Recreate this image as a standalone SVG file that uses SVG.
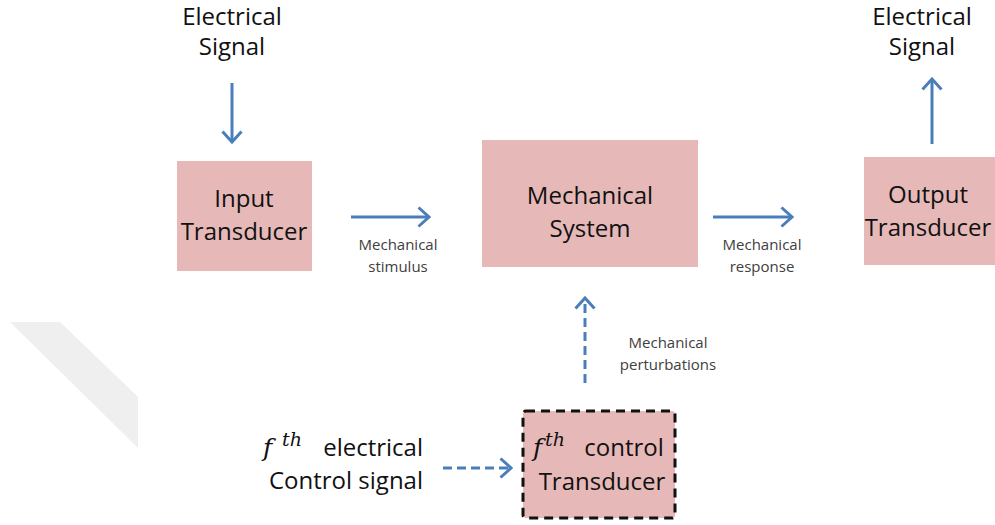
<svg xmlns="http://www.w3.org/2000/svg" width="995" height="525" viewBox="0 0 995 525">
<style>
.box{fill:#e6b9b8;}
.t{font-family:"Open Sans","Liberation Sans",sans-serif;font-size:24px;fill:#111111;text-anchor:middle;}
.s{font-family:"Open Sans","Liberation Sans",sans-serif;font-size:15px;fill:#404040;text-anchor:middle;}
.m{font-family:"DejaVu Serif","Liberation Serif",serif;font-style:italic;fill:#111111;}
.a{stroke:#4a7ebb;stroke-width:3;fill:none;marker-end:url(#ah);}
.d{stroke-dasharray:9 5;}
</style>
<defs>
<marker id="ah" viewBox="0 0 14 22" refX="12" refY="11" markerWidth="14" markerHeight="22" markerUnits="userSpaceOnUse" orient="auto">
<path d="M1.5,1.5 L12,11 L1.5,20.5" fill="none" stroke="#4a7ebb" stroke-width="3"/>
</marker>
</defs>
<rect width="995" height="525" fill="#ffffff"/>
<polygon points="10,322 60,322 138,397 138,448" fill="#efefef"/>

<g id="electrical-signal-in">
<text class="t" x="232" y="25">Electrical</text>
<text class="t" x="232" y="55">Signal</text>
</g>
<g id="electrical-signal-out">
<text class="t" x="922" y="25">Electrical</text>
<text class="t" x="922" y="55">Signal</text>
</g>
<g id="input-transducer">
<rect class="box" x="177" y="161" width="135" height="110"/>
<text class="t" x="244" y="207">Input</text>
<text class="t" x="244" y="240">Transducer</text>
</g>
<g id="mechanical-system">
<rect class="box" x="482" y="140" width="216" height="127"/>
<text class="t" x="590" y="204">Mechanical</text>
<text class="t" x="590" y="237">System</text>
</g>
<g id="output-transducer">
<rect class="box" x="864" y="157" width="140" height="108"/>
<text class="t" x="928" y="203">Output</text>
<text class="t" x="928" y="236">Transducer</text>
</g>
<g id="control-transducer">
<rect class="box" x="523" y="411" width="152" height="107" rx="3" stroke="#111" stroke-width="3" stroke-dasharray="9 6"/>
<text class="m" x="533" y="456" font-size="25">f</text>
<text class="m" x="545" y="446" font-size="19">th</text>
<text class="t" x="624" y="456">control</text>
<text class="t" x="602" y="490">Transducer</text>
</g>
<g id="control-signal">
<text class="m" x="263" y="456" font-size="25">f</text>
<text class="m" x="282" y="446" font-size="19">th</text>
<text class="t" x="423" y="456" style="text-anchor:end">electrical</text>
<text class="t" x="423" y="489" style="text-anchor:end">Control signal</text>
</g>

<g id="connectors">
<path class="a" d="M232,83 V142"/>
<path class="a" d="M351,217 H429"/>
<path class="a" d="M713,217 H792"/>
<path class="a" d="M932,144 V79"/>
<path class="a d" d="M585,383 V298"/>
<path class="a d" d="M443,468 H511"/>
<text class="s" x="398" y="250">Mechanical</text>
<text class="s" x="398" y="272">stimulus</text>
<text class="s" x="762" y="250">Mechanical</text>
<text class="s" x="762" y="272">response</text>
<text class="s" x="668" y="348">Mechanical</text>
<text class="s" x="668" y="370">perturbations</text>
</g>
</svg>
